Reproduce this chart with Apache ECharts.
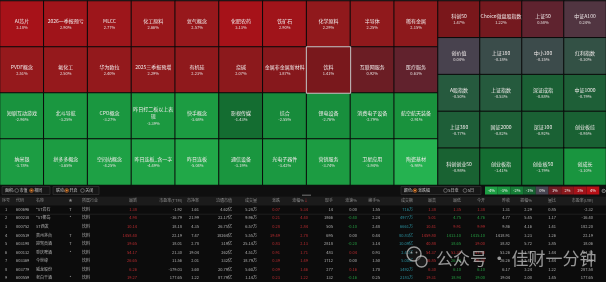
<!DOCTYPE html>
<html>
<head>
<meta charset="utf-8">
<title>板块热力图</title>
<script src="https://cdn.jsdelivr.net/npm/echarts@6/dist/echarts.min.js"></script>
<style>
html,body{margin:0;padding:0;background:#0c0c0c;}
#heat-chart{width:606px;height:282px;}
</style>
</head>
<body>
<div id="heat-chart"></div>
<script>
// 左侧板块 4行 x 10列
var sectorNames = [
    'AI芯片', '2026一季报预亏', 'MLCC', '化工原料', '氦气概念', '化肥农药', '铁矿石', '化学原料', '半导体', '稀有金属',
    'PVDF概念', '氟化工', '华为欧拉', '2025三季报预增', '有机硅', '烧碱', '金属非金属新材料', '饮料', '互联网服务', '医疗服务',
    '短剧互动游戏', '北斗导航', 'CPO概念', '昨日打二板以上表现', '快手概念', '影视传媒', '综合', '锂电设备', '消费电子设备', '航空航天装备',
    '纳米银', '拼多多概念', '空间站概念', '昨日连板_含一字', '昨日连板', '通信设备', '光电子器件', '营销服务', '卫星应用', '陶瓷基材'
];
var sectorPct = [
    3.18, 2.90, 2.77, 2.66, 2.57, 3.13, 2.90, 2.29, 2.25, 2.15,
    2.51, 2.50, 2.40, 2.29, 2.23, 2.07, 1.87, 1.41, 0.92, 0.63,
    -2.96, -3.25, -3.27, -3.39, -3.68, -1.43, -2.55, -2.76, -2.79, -2.91,
    -3.78, -3.65, -4.25, -4.49, -5.04, -3.19, -3.42, -3.74, -3.94, -5.98
];
// 右侧指数 5行 x 4列
var indexNames = [
    '科创50', 'Choice微盘股指数', '上证50', '中证A100',
    '创价值', '上证180', '中小100', '红利指数',
    'A股指数', '上证指数', '深证成指', '中证1000',
    '上证380', '国证2000', '深证100', '创业板综',
    '科创创业50', '创业板指', '创业板50', '创成长'
];
var indexPct = [
    1.47, 1.22, 0.58, 0.24,
    0.04, -0.18, -0.15, -0.30,
    -0.50, -0.53, -0.88, -0.79,
    -0.77, -0.82, -0.92, -0.95,
    -0.98, -1.41, -1.79, -3.10
];
var selectedSector = '饮料';
var legendTicks = [-4, -3, -2, -1, 0, 1, 2, 3, 4];

// 饮料 成分股表
var tableHeaders = ['序号', '代码', '名称', '★', '所属行业', '最新', '市盈率(TTM)', '市净率', '流通市值', '成交量', '涨跌',
    '涨幅%', '现手', '涨速%', '换手%', '成交额', '最高', '最低', '今开', '昨收', '振幅%', '量比', '市盈率(LYR)'];
var stockCodes = ['600696', '600238', '000752', '600519', '603198', '600132', '603369', '603779', '600559'];
var stockNames = ['*ST岩石', '*ST椰岛', 'ST西发', '贵州茅台', '迎驾贡酒', '重庆啤酒', '今世缘', '威龙股份', '老白干酒'];
var stockFlags = ['T', '*', '', 'T', 'T', '*', '', '', '*'];
var stockIndustry = '饮料';
var latest = [1.38, 4.98, 10.14, 1458.40, 39.65, 54.17, 26.65, 6.26, 19.27];
var peTTM = ['-1.92', '-16.79', '18.18', '22.19', '18.01', '21.30', '11.56', '-379.03', '177.65'];
var pb = ['1.61', '21.99', '4.35', '7.47', '2.78', '19.04', '2.01', '3.60', '1.22'];
var floatCap = ['4.62亿', '22.17亿', '26.75亿', '18264亿', '319亿', '262亿', '332亿', '20.79亿', '87.79亿'];
var volume = ['5.28万', '9.96万', '6.57万', '5.55万', '25.14万', '4.51万', '18.79万', '5.60万', '1.14万'];
var change = [0.07, 0.21, 0.28, 39.49, 0.83, 0.91, 0.39, 0.09, 0.23];
var changePct = [5.34, 4.40, 2.84, 2.78, 2.13, 1.71, 1.49, 1.46, 1.22];
var lastHand = ['14', '1866', '505', '695', '2818', '483', '1712', '277', '132'];
var speed = [0.00, -0.40, -0.10, 0.00, -0.20, 0.04, 0.00, 0.16, -0.16];
var turnover = ['1.55', '2.24', '2.48', '0.44', '3.14', '0.93', '1.50', '1.70', '0.25'];
var amount = ['716万', '4977万', '6661万', '80.83亿', '10.09亿', '2.43亿', '5.00亿', '3492万', '2183万'];
var high = [1.38, 5.01, 10.41, 1459.80, 40.88, 54.37, 26.85, 6.30, 19.31];
var low = [1.35, 4.75, 9.91, 1413.10, 38.65, 53.30, 26.20, 6.10, 18.94];
var open = [1.38, 4.76, 9.99, 1415.10, 39.00, 53.50, 26.30, 6.10, 19.00];
var prevClose = [1.31, 4.77, 9.86, 1418.91, 38.82, 53.26, 26.26, 6.17, 19.04];
var amplitude = ['2.29', '5.45', '4.16', '3.23', '5.72', '1.89', '2.47', '3.24', '2.00'];
var volRatio = ['0.85', '1.17', '1.41', '1.26', '3.85', '1.44', '1.44', '1.22', '1.45'];
var peLYR = ['-2.32', '-16.40', '182.20', '22.19', '18.06', '21.30', '11.56', '287.58', '177.65'];

// 颜色刻度 (-6% .. 6%, 每 0.5%)
var colorStops = ['#25b250', '#23ad4c', '#21a848', '#1fa346', '#1d9f44', '#1b9a41', '#19943e', '#178a3b',
    '#157d36', '#136f31', '#186232', '#265a3e', '#464450', '#5c2531', '#6e1b22', '#7b171b', '#8a191c',
    '#95191c', '#a3131a', '#ae1118', '#b81016', '#c00f15', '#c80e14', '#cf0d13', '#d50c12'];
var FONT = '"Noto Sans CJK SC"';
var RED = '#e8353a', GREEN = '#2cc04f', WHITE = '#d6d6d6', TEAL = '#33b0c2';

// 表格列位置 / 对齐
var colX = [6, 16, 36, 70.5, 82, 137, 182, 199, 232, 257, 280, 308, 333, 357, 380, 413, 436, 461, 485, 510, 532, 556, 593];
var colAlign = ['center', 'left', 'left', 'center', 'left'];

function colorAt(v) {
    var t = (v + 6) / 0.5;
    var i = Math.max(0, Math.min(colorStops.length - 2, Math.floor(t)));
    var f = Math.max(0, Math.min(1, t - i));
    var a = echarts.color.parse(colorStops[i]), b = echarts.color.parse(colorStops[i + 1]);
    return 'rgb(' + [0, 1, 2].map(function (k) { return Math.round(a[k] + (b[k] - a[k]) * f); }).join(',') + ')';
}

function buildCells(names, pct, cols) {
    var list = names.map(function (n, i) {
        var item = { name: n, value: [i % cols, Math.floor(i / cols), pct[i]] };
        if (n === selectedSector) {
            item.itemStyle = { borderColor: '#c8c8c8', borderWidth: 1 };
        }
        return item;
    });
    // 选中的格子最后画，边框不被盖住
    list.sort(function (a, b) { return (a.name === selectedSector) - (b.name === selectedSector); });
    return list;
}

// 按格子宽度把名称折行
function wrapName(name, maxW) {
    var lines = [], cur = '', w = 0;
    for (var i = 0; i < name.length; i++) {
        var ch = name[i];
        var cw = ch.charCodeAt(0) > 255 ? 5 : 2.9;
        if (w + cw > maxW && cur) {
            lines.push(cur);
            cur = '';
            w = 0;
        }
        cur += ch;
        w += cw;
    }
    lines.push(cur);
    return lines;
}

function pctLabel(maxW) {
    return {
        show: true,
        formatter: function (p) {
            var parts = wrapName(p.name, maxW).map(function (s) { return '{n|' + s + '}'; });
            parts.push('{p|' + p.value[2].toFixed(2) + '%}');
            return parts.join('\n');
        },
        rich: {
            n: { fontSize: 5, lineHeight: 7, color: '#f0eaea', fontFamily: FONT },
            p: { fontSize: 4, lineHeight: 6, color: '#e6e0e0', fontFamily: FONT }
        }
    };
}

function cmpColor(v, ref) {
    return v > ref ? RED : (v < ref ? GREEN : WHITE);
}

function buildTable() {
    var data = [];
    tableHeaders.forEach(function (h, c) {
        var t = h === '涨幅%' ? '{h|涨幅%}{r|↓}' : '{h|' + h + '}';
        data.push({ value: [colX[c], 0], t: t, label: { align: colAlign[c] || 'right' } });
    });
    stockCodes.forEach(function (code, r) {
        var p = prevClose[r];
        var cells = [
            [String(r + 1), WHITE], [code, WHITE], [stockNames[r], WHITE], [stockFlags[r], WHITE], [stockIndustry, WHITE],
            [latest[r].toFixed(2), cmpColor(latest[r], p)],
            [peTTM[r], WHITE], [pb[r], WHITE], [floatCap[r], WHITE], [volume[r], WHITE],
            [change[r].toFixed(2), cmpColor(change[r], 0)],
            [changePct[r].toFixed(2), cmpColor(changePct[r], 0)],
            [lastHand[r], WHITE],
            [speed[r].toFixed(2), cmpColor(speed[r], 0)],
            [turnover[r], WHITE], [amount[r], TEAL],
            [high[r].toFixed(2), cmpColor(high[r], p)],
            [low[r].toFixed(2), cmpColor(low[r], p)],
            [open[r].toFixed(2), cmpColor(open[r], p)],
            [p.toFixed(2), WHITE],
            [amplitude[r], WHITE], [volRatio[r], WHITE], [peLYR[r], WHITE]
        ];
        cells.forEach(function (cell, c) {
            data.push({ value: [colX[c], r + 1], t: cell[0], label: { align: colAlign[c] || 'right', color: cell[1] } });
        });
    });
    return data;
}

function radio(x, y, on) {
    if (on) {
        return [
            { type: 'circle', shape: { cx: x, cy: y, r: 1.9 }, style: { fill: 'none', stroke: '#e07a2a', lineWidth: 0.6 } },
            { type: 'circle', shape: { cx: x, cy: y, r: 1.1 }, style: { fill: '#f08a30' } }
        ];
    }
    return [{ type: 'circle', shape: { cx: x, cy: y, r: 1.9 }, style: { fill: 'none', stroke: '#8a8a8a', lineWidth: 0.6 } }];
}

function txt(x, y, s, color, size, align, z) {
    return {
        type: 'text', x: x, y: y, z: z || 1,
        style: { text: s, fill: color, font: size + 'px ' + FONT, textAlign: align || 'left', textVerticalAlign: 'middle' }
    };
}

function buildGraphics() {
    var g = [];
    g.push({ type: 'rect', shape: { x: 0, y: 0, width: 606, height: 1 }, style: { fill: '#4a4a4a' } });
    g.push({ type: 'rect', shape: { x: 0, y: 185.5, width: 606, height: 11 }, style: { fill: '#0f0f0f' } });
    g.push({ type: 'rect', shape: { x: 0, y: 196.5, width: 606, height: 9 }, style: { fill: '#1b1b1b' } });
    g.push({ type: 'line', shape: { x1: 0, y1: 214.2, x2: 606, y2: 214.2 }, style: { stroke: '#2c2c2c', lineWidth: 0.6 } });
    g.push({ type: 'rect', shape: { x: 302, y: 194.6, width: 9, height: 1.2 }, style: { fill: '#666' } });
    // 工具栏
    g.push({ type: 'rect', shape: { x: 2, y: 186.5, width: 48, height: 8 }, style: { fill: '#161616', stroke: '#3a3a3a', lineWidth: 0.6 } });
    g.push(txt(5, 190.5, '面积:', '#c8c8c8', 4));
    g = g.concat(radio(16.7, 190.5, false));
    g.push(txt(19.5, 190.5, '市值', '#c8c8c8', 4));
    g = g.concat(radio(31.5, 190.5, true));
    g.push(txt(34.3, 190.5, '相同', '#c8c8c8', 4));
    g.push({ type: 'rect', shape: { x: 53, y: 186.5, width: 46, height: 8 }, style: { fill: '#161616', stroke: '#3a3a3a', lineWidth: 0.6 } });
    g.push(txt(56, 190.5, '联动:', '#c8c8c8', 4));
    g = g.concat(radio(66.7, 190.5, true));
    g.push(txt(69.5, 190.5, '开启', '#c8c8c8', 4));
    g = g.concat(radio(82.5, 190.5, false));
    g.push(txt(85.3, 190.5, '关闭', '#c8c8c8', 4));
    g.push({ type: 'rect', shape: { x: 401, y: 186.5, width: 80, height: 8 }, style: { fill: '#161616', stroke: '#3a3a3a', lineWidth: 0.6 } });
    g.push(txt(404, 190.5, '颜色:', '#c8c8c8', 4));
    g = g.concat(radio(415, 190.5, true));
    g.push(txt(418, 190.5, '涨跌幅', '#c8c8c8', 4));
    g = g.concat(radio(445.5, 190.5, false));
    g.push(txt(448.3, 190.5, '5日涨', '#c8c8c8', 4));
    g = g.concat(radio(465, 190.5, false));
    g.push(txt(467.8, 190.5, '5日', '#c8c8c8', 4));
    // 色阶图例
    var bw = 12.7;
    legendTicks.forEach(function (v, i) {
        g.push({ type: 'rect', shape: { x: 485 + i * bw, y: 186.5, width: bw, height: 8 }, style: { fill: colorAt(v) } });
        g.push(txt(485 + i * bw + bw / 2, 190.5, v + '%', '#f2f2f2', 4, 'center', 2));
    });
    g.push(txt(603, 190.5, '⚙', '#9a9a9a', 6, 'center'));
    // 水印
    var wm = 'rgba(205,205,205,0.72)';
    g.push({ type: 'circle', z: 100, shape: { cx: 414, cy: 254, r: 7 }, style: { fill: 'rgba(40,40,40,0.3)', stroke: wm, lineWidth: 1.4 } });
    g.push({ type: 'circle', z: 100, shape: { cx: 421.5, cy: 261.5, r: 5.5 }, style: { fill: 'rgba(40,40,40,0.5)', stroke: wm, lineWidth: 1.4 } });
    g.push({ type: 'circle', z: 101, shape: { cx: 411.5, cy: 252.5, r: 0.9 }, style: { fill: wm } });
    g.push({ type: 'circle', z: 101, shape: { cx: 416.5, cy: 252.5, r: 0.9 }, style: { fill: wm } });
    g.push(txt(436, 259, '公众号 · 佳财一分钟', wm, 17, 'left', 100));
    return g;
}

function initHeatChart() {
    var _chart = echarts.init(document.getElementById('heat-chart'));
    var tableRows = ['h'].concat(stockCodes);
    var option = {
        backgroundColor: '#0c0c0c',
        animation: false,
        textStyle: { fontFamily: FONT },
        grid: [
            { left: 0, top: 1, width: 438, height: 184 },
            { left: 438, top: 1, width: 168, height: 184 },
            { left: 0, right: 0, top: 196.6, height: 88 }
        ],
        xAxis: [
            { type: 'category', gridIndex: 0, data: [0, 1, 2, 3, 4, 5, 6, 7, 8, 9], show: false },
            { type: 'category', gridIndex: 1, data: [0, 1, 2, 3], show: false },
            { type: 'value', gridIndex: 2, min: 0, max: 606, show: false }
        ],
        yAxis: [
            { type: 'category', gridIndex: 0, data: [0, 1, 2, 3], inverse: true, show: false },
            { type: 'category', gridIndex: 1, data: [0, 1, 2, 3, 4], inverse: true, show: false },
            { type: 'category', gridIndex: 2, data: tableRows, inverse: true, show: false }
        ],
        visualMap: {
            type: 'continuous',
            show: false,
            seriesIndex: [0, 1],
            dimension: 2,
            min: -6,
            max: 6,
            inRange: { color: colorStops }
        },
        series: [{
            type: 'heatmap',
            xAxisIndex: 0,
            yAxisIndex: 0,
            data: buildCells(sectorNames, sectorPct, 10),
            itemStyle: { borderColor: '#0a0a0a', borderWidth: 1 },
            label: pctLabel(41),
            emphasis: { disabled: true }
        }, {
            type: 'heatmap',
            xAxisIndex: 1,
            yAxisIndex: 1,
            data: buildCells(indexNames, indexPct, 4),
            itemStyle: { borderColor: '#0a0a0a', borderWidth: 1 },
            label: pctLabel(43),
            emphasis: { disabled: true }
        }, {
            type: 'scatter',
            xAxisIndex: 2,
            yAxisIndex: 2,
            symbolSize: 1,
            itemStyle: { color: 'transparent' },
            silent: true,
            data: buildTable(),
            label: {
                show: true,
                position: 'inside',
                verticalAlign: 'middle',
                fontSize: 4,
                color: WHITE,
                fontFamily: FONT,
                formatter: function (p) { return p.data.t; },
                rich: {
                    h: { fontSize: 4, color: '#a8a8a8', fontFamily: FONT },
                    r: { fontSize: 4, color: RED, fontFamily: FONT }
                }
            }
        }],
        graphic: buildGraphics()
    };
    _chart.setOption(option);
    window.addEventListener('resize', function () {
        _chart.resize();
    });
}

initHeatChart();
</script>
</body>
</html>
